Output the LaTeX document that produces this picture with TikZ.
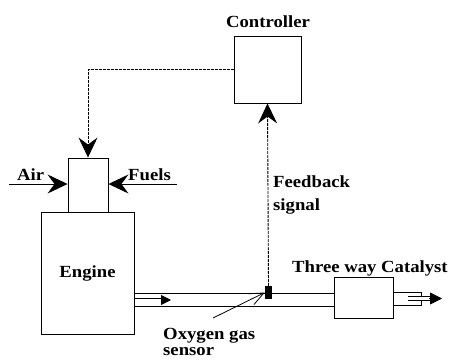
\documentclass[tikz,border=0pt]{standalone}
\usepackage{fontspec}
\setmainfont{Liberation Serif}[FakeStretch=1.1]
\usetikzlibrary{arrows.meta}

\begin{document}
\begin{tikzpicture}[
    x=1pt, y=-1pt,
    every node/.style={font=\fontsize{17}{23}\selectfont\bfseries, inner sep=0pt},
    box/.style={draw, line width=0.9pt},
    label/.style={align=left},
    pipe/.style={line width=0.9pt},
    feed/.style={line width=0.9pt, -{Stealth[length=20pt,width=19pt,inset=7pt]}},
    signal/.style={line width=0.9pt, dash pattern=on 3pt off 1pt, -{Stealth[length=20pt,width=19pt,inset=7pt]}},
    flow/.style={double, double distance=3pt, line width=0.8pt},
    tip/.style={line width=0.8pt, -{Triangle[length=#1,width=#1]}}
]
\clip (0,0) rectangle (452,362);
% blocks
\node[box, minimum width=67pt, minimum height=67pt] (ctrl) at (267.5,69.5) {};
\node[label, anchor=base] (ctrllbl) at (268,27) {Controller};
\node[box, minimum width=40pt, minimum height=54pt] (intake) at (88,185) {};
\node[box, minimum width=93pt, minimum height=122pt] (engine) at (87.5,273) {Engine};
\node[box, minimum width=59pt, minimum height=41pt] (cat) at (363.5,297.5) {};
\node[label, anchor=base west] (catlbl) at (292,272) {Three way Catalyst};
\node[box, minimum width=28pt, minimum height=13pt] (outlet) at (407,298.5) {};
\node[fill, minimum width=7pt, minimum height=13pt] (sensor) at (268.5,292.5) {};

% air and fuel
\coordinate (airend) at (9,184);
\coordinate (fuelend) at (177,184);
\draw[feed] (airend) -- (airend -| intake.west);
\draw[feed] (fuelend) -- (fuelend -| intake.east);
\node[label, anchor=base west] (air) at (17,180) {Air};
\node[label, anchor=base west] (fuel) at (128,180) {Fuels};

% exhaust pipe
\coordinate (ptop) at (134,293);
\coordinate (pbot) at (134,306);
\coordinate (pmid) at (135,300);
\draw[pipe] (ptop) -- (ptop -| cat.west);
\draw[pipe] (pbot) -- (pbot -| cat.west);
\draw[flow] (pmid) -- ++(28,0) coordinate (phead);
\draw[tip=10pt] ([xshift=-2pt]phead) -- ++(10,0);
\draw[flow] ([xshift=1pt]outlet.center) -- ++(22,0) coordinate (ohead);
\draw[tip=12pt] ([xshift=-1pt]ohead) -- ++(13,0);

% control loop
\draw[signal] (ctrl.west) -- (ctrl.west -| intake.north) -- (intake.north);
\draw[signal] (sensor.north) -- (ctrl.south);
\node[label, anchor=base west] (fbk) at (273,210) {Feedback\\signal};

% sensor label
\node[label, anchor=base west, font=\fontsize{17}{16}\selectfont\bfseries] (oxy) at (163,355) {Oxygen gas\\sensor};
\coordinate (oxytail) at (213,318);
\draw[line width=0.8pt, -{Straight Barb[length=14pt,width=12pt]}] (oxytail) -- (sensor.west);
\end{tikzpicture}
\end{document}
